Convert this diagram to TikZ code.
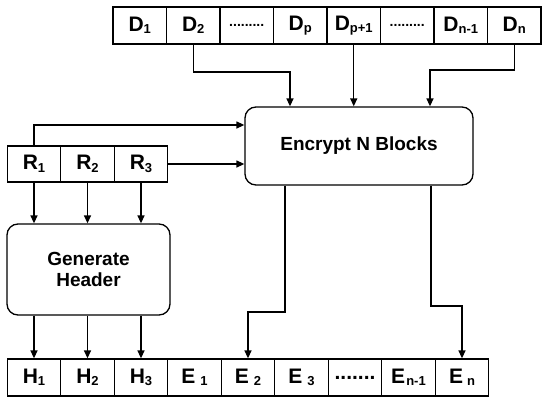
\documentclass[tikz,border=0pt]{standalone}
\usepackage{fontspec}
\setmainfont{Liberation Sans}
\usetikzlibrary{arrows.meta}
\newcommand\subs[1]{\raisebox{-2.5pt}{\fontsize{13}{13}\selectfont #1}}
\newcommand\smalldots{\fontsize{14}{14}\selectfont .........}
\begin{document}
\begin{tikzpicture}[x=1pt,y=-1pt,
  cell/.style={draw, line width=1.3pt, minimum width=53.5pt, minimum height=37pt, inner sep=0pt, font=\bfseries\fontsize{21}{23}\selectfont},
  procbox/.style={draw, line width=1.3pt, rounded corners=11pt, inner sep=0pt, align=center, font=\bfseries\fontsize{19}{21}\selectfont},
  arr/.style={line width=1.3pt, -{Triangle[length=8pt,width=7pt]}}]
\useasboundingbox (0,0) rectangle (550,405);
% D row
\node[cell] (D1) at (139.75,25.5) {D\subs{1}};
\node[cell] (D2) at (193.25,25.5) {D\subs{2}};
\node[cell] (Dd1) at (246.75,25.5) {\smalldots};
\node[cell] (Dp) at (300.25,25.5) {D\subs{p}};
\node[cell] (Dp1) at (353.75,25.5) {D\subs{p+1}};
\node[cell] (Dd2) at (407.25,25.5) {\smalldots};
\node[cell] (Dn1) at (460.75,25.5) {D\subs{n-1}};
\node[cell] (Dn) at (514.25,25.5) {D\subs{n}};
% R row
\node[cell,minimum height=36pt] (R1) at (34,164) {R\subs{1}};
\node[cell,minimum height=36pt] (R2) at (87.5,164) {R\subs{2}};
\node[cell,minimum height=36pt] (R3) at (141,164) {R\subs{3}};
% process boxes
\node[procbox, minimum width=228pt, minimum height=78pt] (enc) at (359,146) {Encrypt N Blocks};
\node[procbox, minimum width=163pt, minimum height=91pt] (gen) at (88.5,269.5) {Generate\\Header};
% H/E row
\node[cell] (H1) at (34,377.5) {H\subs{1}};
\node[cell] (H2) at (87.5,377.5) {H\subs{2}};
\node[cell] (H3) at (141,377.5) {H\subs{3}};
\node[cell] (E1) at (194.5,377.5) {E\hspace{5pt}\subs{1}};
\node[cell] (E2) at (248,377.5) {E\hspace{5pt}\subs{2}};
\node[cell] (E3) at (301.5,377.5) {E\hspace{5pt}\subs{3}};
\node[cell] (Ed) at (355,377.5) {.......};
\node[cell] (En1) at (408.5,377.5) {E\hspace{1pt}\subs{n-1}};
\node[cell] (En) at (462,377.5) {E\hspace{4pt}\subs{n}\hspace{6pt}};
% D to encrypt
\coordinate (k1) at (290,72);
\coordinate (k2) at (430,70);
\draw[arr] (D2.south) |- (k1) -- (k1 |- enc.north);
\draw[arr] (Dp1.south) -- (Dp1.south |- enc.north);
\draw[arr] (Dn.south) |- (k2) -- (k2 |- enc.north);
% R to encrypt
\coordinate (k3) at (34,125);
\draw[arr] (R1.north) -- (k3) -- (k3 -| enc.west);
\draw[arr] (R3.east) -- (R3.east -| enc.west);
% R to generate
\draw[arr] (R1.south) -- (R1.south |- gen.north);
\draw[arr] (R2.south) -- (R2.south |- gen.north);
\draw[arr] (R3.south) -- (R3.south |- gen.north);
% generate to H
\draw[arr] (H1.north |- gen.south) -- (H1.north);
\draw[arr] (H2.north |- gen.south) -- (H2.north);
\draw[arr] (H3.north |- gen.south) -- (H3.north);
% encrypt to E
\coordinate (k4) at (285,312);
\coordinate (k5) at (431,306);
\draw[arr] (k4 |- enc.south) -- (k4) -| (E2.north);
\draw[arr] (k5 |- enc.south) -- (k5) -| (En.north);
\end{tikzpicture}
\end{document}
